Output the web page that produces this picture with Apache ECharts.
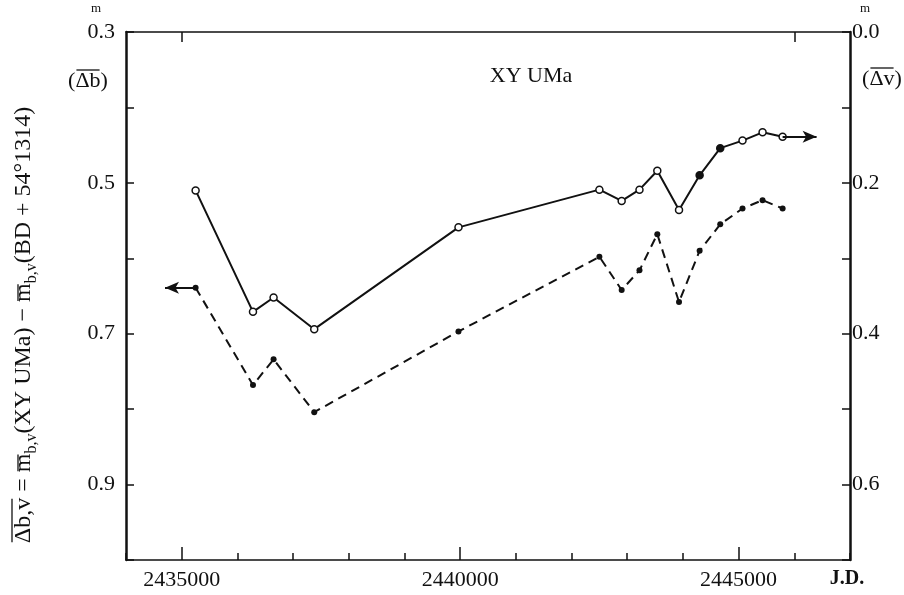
<!DOCTYPE html>
<html>
<head>
<meta charset="utf-8">
<script src="https://cdn.jsdelivr.net/npm/echarts@6/dist/echarts.min.js"></script>
<style>
  html, body { margin: 0; padding: 0; background: #fff; }
  #chart { width: 904px; height: 595px; }
</style>
</head>
<body>
<div id="chart"></div>
<script>
// Julian dates of the observing epochs (shared by both colour series)
const jd = [2435250, 2436280, 2436650, 2437380, 2439970, 2442500, 2442900,
            2443220, 2443540, 2443930, 2444300, 2444670, 2445070, 2445430, 2445790];
// mean B difference (dashed line, left scale)
const deltaB = [0.639, 0.768, 0.734, 0.804, 0.697, 0.598, 0.642,
                0.616, 0.568, 0.658, 0.590, 0.555, 0.534, 0.523, 0.534];
// mean V difference (solid line, right scale)
const deltaV = [0.210, 0.371, 0.352, 0.394, 0.259, 0.209, 0.224,
                0.209, 0.184, 0.236, 0.190, 0.154, 0.144, 0.133, 0.139];
// epochs whose V point is plotted as a filled dot
const filledV = [10, 11];
// arrow ends showing which scale each curve belongs to
const arrowB = 2434700;
const arrowV = 2446400;

// axis ranges and labelled ticks
const xMin = 2434000, xMax = 2447000;
const xLabelTicks = [2435000, 2440000, 2445000];
const xTopTicks = [2435000, 2446000];
const leftLabelTicks = [0.3, 0.5, 0.7, 0.9];
const rightLabelTicks = [0.0, 0.2, 0.4, 0.6];

const xMinorTicks = [];
for (let v = xMin; v <= xMax; v += 1000) xMinorTicks.push(v);

const FONT = '"Liberation Serif", "DejaVu Serif", serif';
const INK = '#111';
const MAIN = '24px ' + FONT;
const SUB = '16px ' + FONT;
const MAIN22 = '22px ' + FONT;

// text measuring, used to lay out the overlined / subscripted labels
const measureCtx = document.createElement('canvas').getContext('2d');
function textWidth(str, font) {
  measureCtx.font = font;
  return measureCtx.measureText(str).width;
}

// A run of text pieces centred on (cx, cy); pieces may carry an overline
// (bar: height above the middle line) or be dropped as a subscript.
function textRun(pieces, cx, cy, rotation) {
  const widths = pieces.map(p => textWidth(p.t, p.font));
  const total = widths.reduce((a, b) => a + b, 0);
  let cursor = -total / 2;
  const children = [];
  pieces.forEach((p, i) => {
    children.push({
      type: 'text', x: cursor, y: p.dy || 0,
      style: { text: p.t, font: p.font, fill: INK, align: 'left', verticalAlign: 'middle' }
    });
    if (p.bar !== undefined) {
      children.push({
        type: 'line',
        shape: { x1: cursor + 1, y1: p.bar, x2: cursor + widths[i] - 1, y2: p.bar },
        style: { stroke: INK, lineWidth: 1.3 }
      });
    }
    cursor += widths[i];
  });
  return { type: 'group', x: cx, y: cy, rotation: rotation || 0, children };
}

const verticalTitle = textRun([
  { t: '\u0394b,v', font: MAIN, bar: -12 },
  { t: ' = ', font: MAIN },
  { t: 'm', font: MAIN, bar: -6 },
  { t: 'b,v', font: SUB, dy: 8 },
  { t: '(XY UMa) \u2212 ', font: MAIN },
  { t: 'm', font: MAIN, bar: -6 },
  { t: 'b,v', font: SUB, dy: 8 },
  { t: '(BD + 54\u00b01314)', font: MAIN }
], 24, 325, Math.PI / 2);

const bLabel = textRun([
  { t: '(', font: MAIN22 },
  { t: '\u0394b', font: MAIN22, bar: -11 },
  { t: ')', font: MAIN22 }
], 88, 81);
const vLabel = textRun([
  { t: '(', font: MAIN22 },
  { t: '\u0394v', font: MAIN22, bar: -11 },
  { t: ')', font: MAIN22 }
], 882, 79);

const arrowLine = (x0, y0, x1) => ({
  silent: true,
  symbol: ['none', 'arrow'],
  symbolSize: [9, 14],
  label: { show: false },
  emphasis: { disabled: true },
  lineStyle: { type: 'solid', width: 2, color: INK },
  data: [[{ coord: [x0, y0] }, { coord: [x1, y0] }]]
});

const plotRect = { left: 126, right: 54, top: 32, bottom: 35 };
const chart = echarts.init(document.getElementById('chart'), null, { renderer: 'canvas' });

const tickStyle = { color: INK, width: 1.5 };

chart.setOption({
  animation: false,
  backgroundColor: '#fff',
  // grid 0 carries the data and the framed axes; grid 1 overlays it only to
  // add the 1000-day minor ticks along the bottom
  grid: [Object.assign({}, plotRect), Object.assign({}, plotRect)],
  xAxis: [
    {
      gridIndex: 0, type: 'value', position: 'bottom', min: xMin, max: xMax,
      axisLine: { show: true, onZero: false, lineStyle: { color: INK, width: 1.5 } },
      axisTick: { show: true, inside: true, length: 13, customValues: xLabelTicks,
                  lineStyle: tickStyle },
      axisLabel: { show: true, customValues: xLabelTicks, margin: 9,
                   fontFamily: FONT, fontSize: 22, color: INK,
                   formatter: v => String(v) },
      splitLine: { show: false }
    },
    {
      gridIndex: 0, type: 'value', position: 'top', min: xMin, max: xMax,
      axisLine: { show: true, onZero: false, lineStyle: { color: INK, width: 1.5 } },
      axisTick: { show: true, inside: true, length: 10, customValues: xTopTicks,
                  lineStyle: tickStyle },
      axisLabel: { show: true, customValues: xTopTicks, formatter: () => '' },
      splitLine: { show: false }
    },
    {
      gridIndex: 1, type: 'value', position: 'bottom', min: xMin, max: xMax,
      axisLine: { show: false, onZero: false },
      axisTick: { show: true, inside: true, length: 7, customValues: xMinorTicks,
                  lineStyle: tickStyle },
      axisLabel: { show: true, customValues: xMinorTicks, formatter: () => '' },
      splitLine: { show: false }
    }
  ],
  yAxis: [
    {
      gridIndex: 0, type: 'value', position: 'left', inverse: true,
      min: 0.3, max: 1.0, interval: 0.1,
      axisLine: { show: true, onZero: false, lineStyle: { color: INK, width: 2.5 } },
      axisTick: { show: true, inside: true, length: 8, lineStyle: tickStyle },
      axisLabel: { show: true, customValues: leftLabelTicks, margin: 11,
                   fontFamily: FONT, fontSize: 22, color: INK,
                   formatter: v => v.toFixed(1) },
      splitLine: { show: false }
    },
    {
      gridIndex: 0, type: 'value', position: 'right', inverse: true,
      min: 0.0, max: 0.7, interval: 0.1,
      axisLine: { show: true, onZero: false, lineStyle: { color: INK, width: 2.5 } },
      axisTick: { show: true, inside: true, length: 8, lineStyle: tickStyle },
      axisLabel: { show: true, customValues: rightLabelTicks, margin: 2,
                   fontFamily: FONT, fontSize: 22, color: INK,
                   formatter: v => v.toFixed(1) },
      splitLine: { show: false }
    },
    {
      gridIndex: 1, type: 'value', min: 0, max: 1, show: false
    }
  ],
  series: [
    {
      name: 'B', type: 'line', xAxisIndex: 0, yAxisIndex: 0,
      data: jd.map((x, i) => [x, deltaB[i]]),
      symbol: 'circle', symbolSize: 6,
      itemStyle: { color: INK },
      lineStyle: { color: INK, width: 2, type: [9, 6] },
      markLine: arrowLine(jd[0], deltaB[0], arrowB),
      z: 3
    },
    {
      name: 'V', type: 'line', xAxisIndex: 0, yAxisIndex: 1,
      data: jd.map((x, i) => filledV.includes(i)
        ? { value: [x, deltaV[i]], itemStyle: { color: INK } }
        : [x, deltaV[i]]),
      symbol: 'circle', symbolSize: 7,
      itemStyle: { color: '#fff', borderColor: INK, borderWidth: 1.5 },
      lineStyle: { color: INK, width: 2 },
      markLine: arrowLine(jd[jd.length - 1], deltaV[deltaV.length - 1], arrowV),
      z: 3
    }
  ],
  graphic: [
    { type: 'text', left: 91, top: 2,
      style: { text: 'm', font: '13px ' + FONT, fill: INK } },
    { type: 'text', left: 860, top: 2,
      style: { text: 'm', font: '13px ' + FONT, fill: INK } },
    bLabel,
    vLabel,
    { type: 'text', x: 531, y: 76,
      style: { text: 'XY UMa', font: MAIN22, fill: INK,
               align: 'center', verticalAlign: 'middle' } },
    { type: 'text', x: 847, y: 579,
      style: { text: 'J.D.', font: 'bold 20px ' + FONT, fill: INK,
               align: 'center', verticalAlign: 'middle' } },
    verticalTitle
  ]
});
</script>
</body>
</html>
